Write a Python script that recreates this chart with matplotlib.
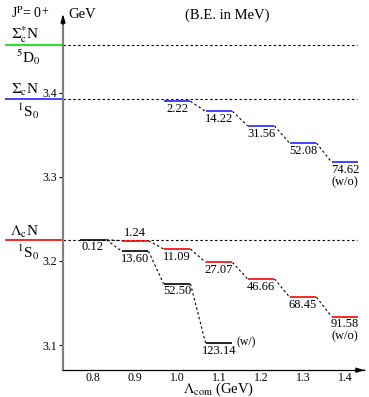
import matplotlib
matplotlib.use("Agg")
import matplotlib.pyplot as plt

plt.rcParams['font.family'] = ['Liberation Serif', 'DejaVu Serif']
plt.rcParams['mathtext.fontset'] = 'stix'

# ---- data ----
lam = [0.8, 0.9, 1.0, 1.1, 1.2, 1.3, 1.4]
thr_LcN = 3.2254
thr_ScN = 3.3924
thr_SsN = 3.4570
# Lambda_c N, without coupled channels (red)
lam_red = [0.9, 1.0, 1.1, 1.2, 1.3, 1.4]
be_red = [1.24, 11.09, 27.07, 46.66, 68.45, 91.58]
# Lambda_c N, with coupled channels (black)
lam_blk = [0.8, 0.9, 1.0, 1.1]
be_blk = [0.12, 13.60, 52.50, 123.14]
# Sigma_c N (blue)
lam_blu = [1.0, 1.1, 1.2, 1.3, 1.4]
be_blu = [2.22, 14.22, 31.56, 52.08, 74.62]
yticks = [3.1, 3.2, 3.3, 3.4]

fig = plt.figure(figsize=(3.69, 3.97), dpi=100)
ax = fig.add_axes([0, 0, 1, 1])
x0, x1 = 0.5786, 1.4571
y0, y1 = 3.0381, 3.5107
ax.set_xlim(x0, x1)
ax.set_ylim(y0, y1)
ax.patch.set_alpha(0)

xax = 0.7286
yax = 3.07
xend = 1.4286
hw = 0.032

for s in ['top', 'right']:
    ax.spines[s].set_visible(False)
ax.spines['left'].set_position(('data', xax))
ax.spines['left'].set_bounds(yax, 3.482)
ax.spines['left'].set_color('#808080')
ax.spines['left'].set_linewidth(1.6)
ax.spines['bottom'].set_position(('data', yax))
ax.spines['bottom'].set_bounds(xax, 1.445)
ax.spines['bottom'].set_linewidth(0.9)
ax.annotate('', xy=(xax, 3.497), xytext=(xax, 3.478),
            arrowprops=dict(arrowstyle='-|>,head_length=0.5,head_width=0.15', color='black', lw=0.8))
ax.annotate('', xy=(1.4535, yax), xytext=(1.44, yax),
            arrowprops=dict(arrowstyle='-|>,head_length=0.5,head_width=0.15', color='black', lw=0.8))

ax.set_xticks(lam)
ax.set_xticklabels([f'{v:.1f}' for v in lam])
ax.set_yticks(yticks)
ax.set_yticklabels([f'{v:.1f}' for v in yticks])
ax.tick_params(axis='x', length=0, pad=1.5, labelsize=8.5)
ax.tick_params(axis='y', direction='out', length=3, width=0.8, pad=1, labelsize=8.5)

# thresholds
dash = (0, (2.2, 2.2))
for thr, col in [(thr_LcN, 'red'), (thr_ScN, '#2222ff'), (thr_SsN, '#00dd00')]:
    ax.plot([0.5905, xax], [thr, thr], color=col, lw=1.2, solid_capstyle='butt', clip_on=False)
    ax.plot([xax, xend], [thr, thr], color='black', lw=0.8, linestyle=dash)

def levels(xs, bes, thr, col):
    ys = [thr - b / 1000 for b in bes]
    for x, y in zip(xs, ys):
        ax.plot([x - hw, x + hw], [y, y], color=col, lw=1.2, solid_capstyle='butt')
    return ys

def connect(xs, ys):
    for i in range(len(xs) - 1):
        ax.plot([xs[i] + hw, xs[i + 1] - hw], [ys[i], ys[i + 1]], color='black', lw=0.8, linestyle=dash)

y_red = levels(lam_red, be_red, thr_LcN, 'red')
y_blk = levels(lam_blk, be_blk, thr_LcN, 'black')
y_blu = levels(lam_blu, be_blu, thr_ScN, '#2222ff')
connect([lam_blk[0]] + lam_red, [y_blk[0]] + y_red)
connect(lam_blk, y_blk)
connect(lam_blu, y_blu)

fs = 9
def lab(x, y, b, above=False, extra=''):
    if above:
        ax.text(x, y + 0.002, f'{b:.2f}', ha='center', va='bottom', fontsize=fs)
    else:
        ax.text(x, y - 0.002, f'{b:.2f}' + extra, ha='center', va='top', fontsize=fs, linespacing=1.05)

for i, (x, y, b) in enumerate(zip(lam_red, y_red, be_red)):
    lab(x, y, b, above=(i == 0), extra='\n(w/o)' if i == len(lam_red) - 1 else '')
for x, y, b in zip(lam_blk, y_blk, be_blk):
    lab(x, y, b)
for i, (x, y, b) in enumerate(zip(lam_blu, y_blu, be_blu)):
    lab(x, y, b, extra='\n(w/o)' if i == len(lam_blu) - 1 else '')
ax.text(1.1405, y_blk[-1] + 0.001, '(w/)', ha='left', va='center', fontsize=8.5)

# texts
ax.text(0.6048, 3.495, r'J$^{\rm P}$= 0$^{+}$', ha='left', va='center', fontsize=10)
ax.text(0.7405, 3.493, 'GeV', ha='left', va='center', fontsize=10.5)
ax.text(1.119, 3.492, '(B.E. in MeV)', ha='center', va='center', fontsize=10.5)
ax.text(0.638, 3.469, r'$\Sigma_{\rm c}^{*}$N', ha='center', va='center', fontsize=11)
ax.text(0.645, 3.443, r'$^{5}$D$_{0}$', ha='center', va='center', fontsize=11)
ax.text(0.638, 3.4036, r'$\Sigma_{\rm c}$N', ha='center', va='center', fontsize=11)
ax.text(0.645, 3.3786, r'$^{1}$S$_{0}$', ha='center', va='center', fontsize=11)
ax.text(0.638, 3.2345, r'$\Lambda_{\rm c}$N', ha='center', va='center', fontsize=11)
ax.text(0.645, 3.2107, r'$^{1}$S$_{0}$', ha='center', va='center', fontsize=11)
ax.text(1.098, 3.0429, r'$\Lambda_{\rm com}$ (GeV)', ha='center', va='baseline', fontsize=10.5)

fig.savefig('out.png', dpi=100)
